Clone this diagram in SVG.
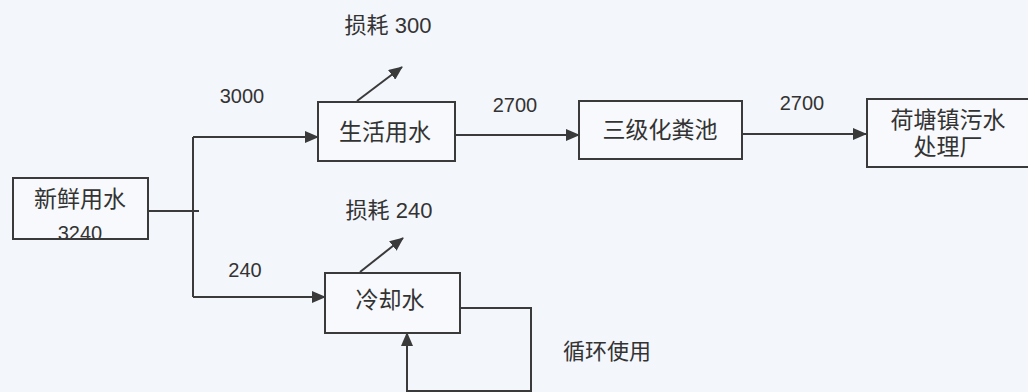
<svg xmlns="http://www.w3.org/2000/svg" width="1028" height="392" viewBox="0 0 1028 392">
<style>
.bg{fill:#f3f6fb}
.box{fill:#f7f9fc;stroke:#3a3a3a;stroke-width:2}
.ln{fill:none;stroke:#3a3a3a;stroke-width:2}
.t{font-family:"Liberation Sans","Noto Sans CJK SC",sans-serif;fill:#333;font-size:23px}
.s{font-family:"Liberation Sans","Noto Sans CJK SC",sans-serif;fill:#333;font-size:22px}
.n{font-family:"Liberation Sans","Noto Sans CJK SC",sans-serif;fill:#333;font-size:20px}
</style>
<defs>
<marker id="ah" markerUnits="userSpaceOnUse" markerWidth="14" markerHeight="12" refX="13" refY="6" orient="auto">
<path d="M0,0 L14,6 L0,12 z" fill="#3a3a3a"/>
</marker>
<clipPath id="clipA"><rect x="14" y="179" width="133" height="59"/></clipPath>
</defs>
<rect class="bg" x="0" y="0" width="1028" height="392"/>
<g id="connectors">
<path class="ln" d="M148,211 L199,211"/>
<path class="ln" d="M193,137 L193,297"/>
<path class="ln" d="M193,137 L318,137" marker-end="url(#ah)"/>
<path class="ln" d="M193,297 L325,297" marker-end="url(#ah)"/>
<path class="ln" d="M455,135 L579,135" marker-end="url(#ah)"/>
<path class="ln" d="M742,134 L866,134" marker-end="url(#ah)"/>
<path class="ln" d="M357,101 L402,67" marker-end="url(#ah)"/>
<path class="ln" d="M360,272 L403,238" marker-end="url(#ah)"/>
<path class="ln" d="M460,308 L531,308 L531,391 L407,391 L407,333" marker-end="url(#ah)"/>
<text class="n" x="242" y="103" text-anchor="middle">3000</text>
<text class="n" x="245" y="277" text-anchor="middle">240</text>
<text class="n" x="515" y="112" text-anchor="middle">2700</text>
<text class="n" x="802" y="110" text-anchor="middle">2700</text>
<text class="s" x="388" y="33" text-anchor="middle">损耗 300</text>
<text class="s" x="389" y="218" text-anchor="middle">损耗 240</text>
<text class="s" x="607" y="359" text-anchor="middle">循环使用</text>
</g>
<g id="n-fresh">
<rect class="box" x="13" y="178" width="135" height="61"/>
<text class="t" x="80" y="207" text-anchor="middle">新鲜用水</text>
<g clip-path="url(#clipA)"><text class="n" x="80" y="240" text-anchor="middle">3240</text></g>
</g>
<g id="n-domestic">
<rect class="box" x="318" y="102" width="137" height="59"/>
<text class="t" x="385" y="140" text-anchor="middle">生活用水</text>
</g>
<g id="n-septic">
<rect class="box" x="579" y="101" width="163" height="58"/>
<text class="t" x="660" y="138" text-anchor="middle">三级化粪池</text>
</g>
<g id="n-plant">
<rect class="box" x="867" y="99" width="170" height="68"/>
<text class="t" x="948" y="128" text-anchor="middle">荷塘镇污水</text>
<text class="t" x="948" y="155" text-anchor="middle">处理厂</text>
</g>
<g id="n-cooling">
<rect class="box" x="325" y="273" width="135" height="60"/>
<text class="t" x="390" y="308" text-anchor="middle">冷却水</text>
</g>
</svg>
